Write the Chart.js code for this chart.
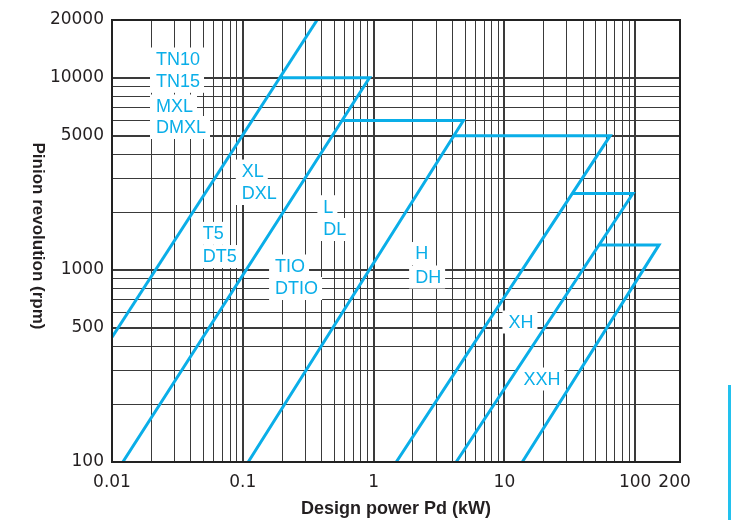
<!DOCTYPE html>
<html><head><meta charset="utf-8">
<script src="https://cdn.jsdelivr.net/npm/chart.js@4"></script>
<style>
html,body{margin:0;padding:0;background:#fff;}
#wrap{position:relative;width:731px;height:520px;overflow:hidden;}
canvas{display:block;}
#bar{position:absolute;left:728px;top:385px;width:3px;height:135px;background:#22c1ee;}
</style>
</head><body>
<div id="wrap"><canvas id="c" width="731" height="520"></canvas><div id="bar"></div></div>
<script>
// ---- tick positions / labels ----
const xTicks = [0.01,0.02,0.03,0.04,0.05,0.06,0.07,0.08,0.09,
                0.1,0.2,0.3,0.4,0.5,0.6,0.7,0.8,0.9,
                1,2,3,4,5,6,7,8,9,
                10,20,30,40,50,60,70,80,90,
                100,200];
const xLabels = [0.01,0.1,1,10,100,200];
const xBold = [0.1,1,10,100];
const yTicks = [100,200,300,400,500,600,700,800,900,
                1000,2000,3000,4000,5000,6000,7000,8000,9000,
                10000,20000];
const yLabels = [100,500,1000,5000,10000,20000];
const yBold = [500,1000,5000,10000];

// ---- boundary lines (design power kW, pinion rpm) ----
const lineA = [{x:0.01,y:446},{x:0.37,y:20000}];
const lineB = [{x:0.0121,y:100},{x:0.93,y:10000},{x:0.192,y:10000}];
const lineC = [{x:0.110,y:100},{x:4.86,y:6000},{x:0.574,y:6000}];
const lineD = [{x:1.49,y:100},{x:64.4,y:5000},{x:4.11,y:5000}];
const lineE = [{x:4.28,y:100},{x:96,y:2500},{x:33,y:2500}];
const lineF = [{x:13.7,y:100},{x:152,y:1350},{x:52.9,y:1350}];

// ---- belt type labels (anchored at data coordinates: left edge, middle) ----
const beltLabels = [
  {t:'TN10', x:0.0217, y:12530},
  {t:'TN15', x:0.0217, y:9590},
  {t:'MXL',  x:0.0217, y:7133},
  {t:'DMXL', x:0.0217, y:5512},
  {t:'XL',   x:0.0982, y:3272},
  {t:'DXL',  x:0.0982, y:2499},
  {t:'T5',   x:0.0494, y:1550},
  {t:'DT5',  x:0.0494, y:1174},
  {t:'L',    x:0.413,  y:2133},
  {t:'DL',   x:0.413,  y:1623},
  {t:'TIO',  x:0.1765, y:1048},
  {t:'DTIO', x:0.1765, y:800},
  {t:'H',    x:2.077,  y:1217},
  {t:'DH',   x:2.077,  y:918.6},
  {t:'XH',   x:10.74,  y:535.5},
  {t:'XXH',  x:13.98,  y:270.4}
];

const BLUE = '#0aaee8';
const GRID = '#3a3a3a';
const TEXT = '#231f20';

const mkDs = d => ({data:d, borderColor:BLUE, borderWidth:3, pointRadius:0,
  tension:0, fill:false, borderJoinStyle:'miter', borderCapStyle:'butt'});

const labelPlugin = {
  id:'labels',
  beforeDatasetsDraw(chart){
    const {ctx, scales:{x, y}} = chart;
    ctx.save();
    ctx.font = '18px "Liberation Sans", Arial, sans-serif';
    ctx.textBaseline = 'middle';
    ctx.textAlign = 'left';
    beltLabels.forEach(l => {
      const px = x.getPixelForValue(l.x), py = y.getPixelForValue(l.y);
      const w = ctx.measureText(l.t).width;
      ctx.fillStyle = '#fff';
      ctx.fillRect(px-6, py-11.5, w+10, 23);
    });
    ctx.fillStyle = BLUE;
    beltLabels.forEach(l => {
      const px = x.getPixelForValue(l.x), py = y.getPixelForValue(l.y);
      ctx.fillText(l.t, px, py+1);
    });
    ctx.restore();
  },
  afterDraw(chart){
    const {ctx, chartArea:a} = chart;
    ctx.save();
    ctx.strokeStyle = '#222';
    ctx.lineWidth = 2;
    ctx.strokeRect(a.left, a.top, a.right-a.left, a.bottom-a.top);
    ctx.translate(38, 236);
    ctx.rotate(Math.PI/2);
    ctx.font = 'bold 17px "Liberation Sans", Arial, sans-serif';
    ctx.fillStyle = TEXT;
    ctx.textAlign = 'center';
    ctx.textBaseline = 'middle';
    ctx.fillText('Pinion revolution (rpm)', 0, 0);
    ctx.restore();
  }
};

new Chart(document.getElementById('c'), {
  type:'line',
  data:{datasets:[mkDs(lineA),mkDs(lineB),mkDs(lineC),mkDs(lineD),mkDs(lineE),mkDs(lineF)]},
  options:{
    responsive:false, animation:false, devicePixelRatio:1,
    layout:{padding:{left:0,right:51,top:20,bottom:0}},
    plugins:{legend:{display:false}, tooltip:{enabled:false}},
    scales:{
      x:{
        type:'logarithmic', min:0.01, max:220,
        afterBuildTicks(s){ s.ticks = xTicks.map(v=>({value:v})); },
        afterFit(s){ s.height = 58; },
        ticks:{autoSkip:false, maxRotation:0, padding:10, color:TEXT,
          font:{family:'"DejaVu Sans", sans-serif', size:17},
          callback:(v)=> xLabels.includes(v) ? String(v) : ''},
        grid:{drawTicks:false, color:c => (c.tick && c.tick.value===200) ? 'rgba(0,0,0,0)' : GRID,
          lineWidth:c => (c.tick && xBold.includes(c.tick.value)) ? 2 : 1},
        border:{display:false},
        title:{display:true, text:'Design power Pd (kW)', color:TEXT, padding:{top:0,bottom:0},
          font:{family:'"Liberation Sans", Arial, sans-serif', size:18, weight:'bold'}}
      },
      y:{
        type:'logarithmic', min:100, max:20000,
        afterBuildTicks(s){ s.ticks = yTicks.map(v=>({value:v})); },
        afterFit(s){ s.width = 112; },
        ticks:{autoSkip:false, padding:8, color:TEXT,
          font:{family:'"DejaVu Sans", sans-serif', size:17},
          callback:(v)=> yLabels.includes(v) ? String(v) : ''},
        grid:{drawTicks:false, color:GRID,
          lineWidth:c => (c.tick && yBold.includes(c.tick.value)) ? 2 : 1},
        border:{display:false}
      }
    }
  },
  plugins:[labelPlugin]
});
</script>
</body></html>
